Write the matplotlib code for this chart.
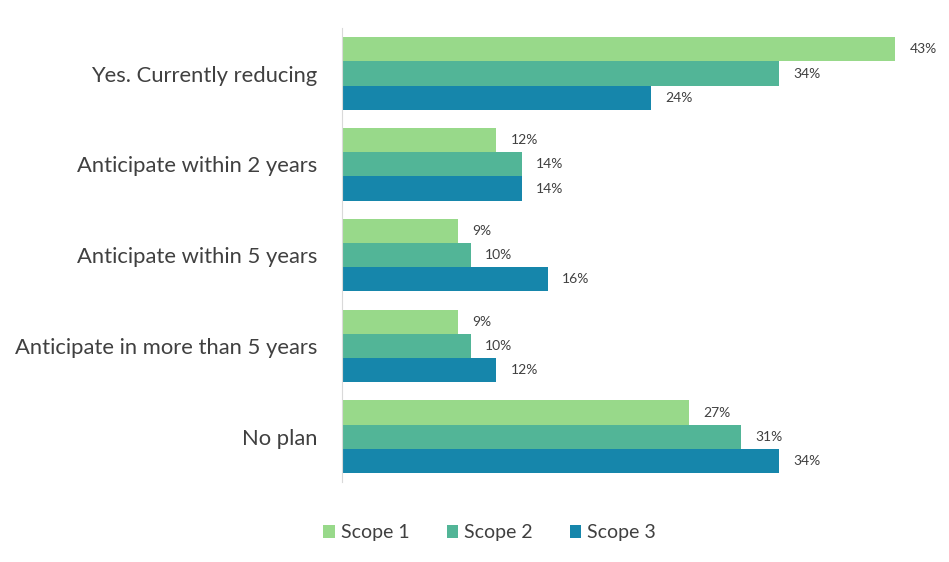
import matplotlib.pyplot as plt
import numpy as np

plt.rcParams['font.family'] = ['Lato', 'DejaVu Sans']

categories = ["Yes. Currently reducing", "Anticipate within 2 years",
              "Anticipate within 5 years", "Anticipate in more than 5 years",
              "No plan"]
series = ["Scope 1", "Scope 2", "Scope 3"]
scope1 = [43, 12, 9, 9, 27]
scope2 = [34, 14, 10, 10, 31]
scope3 = [24, 14, 16, 12, 34]
colors = ["#98d98a", "#52b597", "#1686ab"]

fig = plt.figure(figsize=(9.49, 5.62), dpi=100)
ax = fig.add_axes([0.3604, 0.142, 0.61, 0.808])

y = np.arange(len(categories))
h = 0.8 / 3
for i, (vals, name, c) in enumerate(zip([scope1, scope2, scope3], series, colors)):
    pos = y + (i - 1) * h
    ax.barh(pos, vals, height=h, color=c, label=name)
    for p, v in zip(pos, vals):
        ax.text(v + 1.1, p, f"{v}%", va="center", ha="left",
                fontsize=10, color="#404040")

ax.set_ylim(len(categories) - 0.5, -0.5)
ax.set_xlim(0, 45)
ax.set_yticks(y)
ax.set_yticklabels(categories, fontsize=15.8, color="#404040")
ax.tick_params(axis="y", length=0, pad=18)
ax.set_xticks([])
for s in ["top", "right", "bottom"]:
    ax.spines[s].set_visible(False)
ax.spines["left"].set_color("#d9d9d9")

fig.legend(loc="center", bbox_to_anchor=(0.516, 0.052), ncol=3, frameon=False,
           fontsize=14, handlelength=0.6, handleheight=0.6, handletextpad=0.3,
           columnspacing=1.9, labelcolor="#404040")

fig.savefig("out.png", dpi=100)
